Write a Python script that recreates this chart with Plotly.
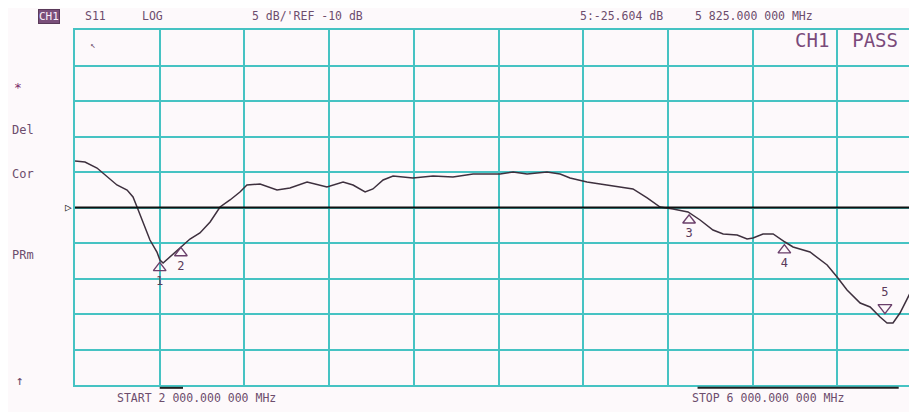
import plotly.graph_objects as go

# ---------------- data ----------------
freq_ghz = [2.000, 2.047, 2.104, 2.151, 2.198, 2.246, 2.274, 2.293, 2.321, 2.354,
            2.387, 2.401, 2.416, 2.449, 2.482, 2.510, 2.543, 2.590, 2.638, 2.685,
            2.732, 2.779, 2.812, 2.874, 2.954, 3.015, 3.096, 3.190, 3.266, 3.313,
            3.370, 3.407, 3.455, 3.502, 3.596, 3.691, 3.785, 3.880, 4.007, 4.069,
            4.135, 4.229, 4.291, 4.338, 4.418, 4.480, 4.574, 4.635, 4.702, 4.763,
            4.824, 4.895, 4.952, 5.013, 5.061, 5.127, 5.174, 5.202, 5.249, 5.297,
            5.353, 5.391, 5.471, 5.552, 5.599, 5.646, 5.708, 5.755, 5.802, 5.835,
            5.863, 5.896, 5.944, 5.977]
s11_db = [-3.45, -3.59, -4.44, -5.70, -6.83, -7.54, -8.52, -9.93, -12.18, -14.58,
          -16.27, -17.39, -17.82, -16.97, -15.99, -15.28, -14.44, -13.59, -12.04, -9.93,
          -8.94, -7.82, -6.83, -6.69, -7.54, -7.25, -6.41, -7.11, -6.41, -6.83,
          -7.82, -7.39, -6.13, -5.56, -5.84, -5.56, -5.70, -5.28, -5.28, -5.00,
          -5.28, -5.00, -5.28, -5.84, -6.41, -6.69, -7.11, -7.39, -8.66, -9.93,
          -10.21, -10.63, -11.76, -13.17, -13.73, -13.87, -14.44, -14.30, -13.73, -13.73,
          -14.86, -15.56, -16.27, -18.10, -19.79, -21.62, -23.45, -24.01, -25.42, -26.27,
          -26.27, -24.86, -22.04, -21.20]

marker_ids = ["1", "2", "3", "4"]
marker_freq = [2.40, 2.50, 4.90, 5.35]
marker_db = [-17.4, -15.3, -10.7, -14.9]
active_marker_id = "5"
active_marker_freq = 5.825
active_marker_db = -25.604

limit_bands = [(2.40, 2.51), (4.94, 5.89)]

start_ghz = 2.0
stop_ghz = 6.0
ref_db = -10
scale_db = 5
divisions = 10

# ---------------- styling ----------------
W, H = 917, 412
OFF = 8                       # page body margin in the browser
SL, ST, SR, SB = 75, 30, 917, 385   # plot box in screen pixels
L, T = SL - OFF, ST - OFF
R = W - (SR - OFF)
B = H - (SB - OFF)
GRID = "#46c3c3"
TXT = "#6d4d6d"
TRACE = "#3e303e"
BG = "#fdf9fb"
MONO = "DejaVu Sans Mono"

div_ghz = (stop_ghz - start_ghz) / divisions
px_per_div = 84.7
xmax = start_ghz + (SR - SL) / px_per_div * div_ghz
ytop = ref_db + scale_db * divisions / 2
ybot = ref_db - scale_db * divisions / 2

fig = go.Figure()

fig.add_trace(go.Scatter(x=freq_ghz, y=s11_db, mode="lines",
                         line=dict(color=TRACE, width=1.5), hoverinfo="skip"))

# markers (triangles below the trace point, number under them)
moff = 1.1
fig.add_trace(go.Scatter(
    x=marker_freq, y=[v - moff for v in marker_db], mode="markers+text",
    marker=dict(symbol="triangle-up-open", size=11, color="#6a3f6a",
                line=dict(width=1.4, color="#6a3f6a")),
    text=marker_ids, textposition="bottom center",
    textfont=dict(family=MONO, size=12, color="#5a3a5a"), hoverinfo="skip"))
fig.add_trace(go.Scatter(
    x=[active_marker_freq], y=[active_marker_db + 1.5], mode="markers+text",
    marker=dict(symbol="triangle-down-open", size=12, color="#6a3f6a",
                line=dict(width=1.4, color="#6a3f6a")),
    text=[active_marker_id], textposition="top center",
    textfont=dict(family=MONO, size=12, color="#5a3a5a"), hoverinfo="skip"))

# reference line
fig.add_shape(type="line", xref="paper", x0=0, x1=1, yref="y", y0=ref_db, y1=ref_db,
              line=dict(color="#111111", width=2.2))

# limit bands under the graticule
for a, b in limit_bands:
    fig.add_shape(type="line", xref="x", x0=a, x1=b, yref="paper", y0=-0.008, y1=-0.008,
                  line=dict(color="#222222", width=2))


def px(x):
    return (x - SL) / (SR - SL)


def py(y):
    return (SB - y) / (SB - ST)


def txt(x, y, s, size=12, color=TXT, anchor="left", **kw):
    fig.add_annotation(x=px(x), y=py(y), xref="paper", yref="paper", text=s,
                       showarrow=False, xanchor=anchor, yanchor="middle",
                       font=dict(family=MONO, size=size, color=color), **kw)


TOPY = 16
txt(49, TOPY, "CH1", size=11, color="#fbeefb", anchor="center",
    bgcolor="#7a4f7a", bordercolor="#5a3a5a", borderwidth=1, borderpad=0)
txt(83, TOPY, "S11", size=11.5)
txt(140, TOPY, "LOG", size=11.5)
txt(250, TOPY, "5 dB/'REF -10 dB", size=11.5)
txt(578, TOPY, "5:-25.604 dB", size=11.5)
txt(693, TOPY, "5 825.000 000 MHz", size=11.5)
txt(846, 40, "CH1  PASS", size=19, color="#7a4a7a", anchor="center")
txt(88, 45, "↖", size=9, color="#6a4a6a")
txt(12, 87, "*", size=13, color="#7a2a6a")
txt(10, 130, "Del", size=12)
txt(10, 174, "Cor", size=12)
txt(10, 255, "PRm", size=12)
txt(14, 380, "↑", size=13)
txt(74, 207.5, "▷", size=11, color="#222222", anchor="right")
txt(115, 398, "START 2 000.000 000 MHz", size=11.5)
txt(690, 398, "STOP 6 000.000 000 MHz", size=11.5)

fig.update_layout(
    width=W, height=H, margin=dict(l=L, r=R, t=T, b=B, pad=0),
    paper_bgcolor=BG, plot_bgcolor=BG, showlegend=False,
    xaxis=dict(range=[start_ghz, xmax], tick0=start_ghz, dtick=div_ghz,
               showticklabels=False, ticks="", showgrid=True, gridcolor=GRID,
               gridwidth=2, zeroline=False, showline=True, linecolor=GRID,
               linewidth=2, mirror=True, fixedrange=True),
    yaxis=dict(range=[ybot, ytop], tick0=ybot, dtick=scale_db,
               showticklabels=False, ticks="", showgrid=True, gridcolor=GRID,
               gridwidth=2, zeroline=False, showline=True, linecolor=GRID,
               linewidth=2, mirror=False, fixedrange=True),
)

fig.write_html("out.html")
